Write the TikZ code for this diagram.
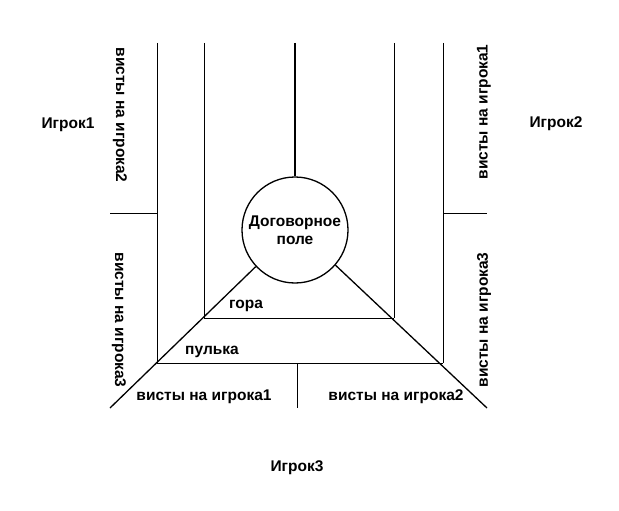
\documentclass[tikz,border=0pt]{standalone}
\usepackage{fontspec}
\setmainfont{Liberation Sans}
\begin{document}
\begin{tikzpicture}[x=1pt,y=-1pt,line width=0.6pt,
  lbl/.style={font=\bfseries\fontsize{15.5}{18}\selectfont,inner sep=1pt},
  thick1/.style={line width=1.3pt}]
\useasboundingbox (0,0) rectangle (619,511);
\node[draw,circle,minimum size=106pt,inner sep=0pt,thick1,align=center,lbl] (c) at (295,230) {Договорное\\поле};
\coordinate (t1) at (157,43); \coordinate (b1) at (157,363);
\coordinate (t2) at (204,43); \coordinate (b2) at (204,318);
\coordinate (t3) at (295,43);
\coordinate (t4) at (394,43); \coordinate (b4) at (394,318);
\coordinate (t5) at (443,43); \coordinate (b5) at (443,363);
\coordinate (hl) at (110,213); \coordinate (hr) at (487,213);
\coordinate (hlm) at (157,213); \coordinate (hrm) at (443,213);
\coordinate (dl) at (110,408); \coordinate (dr) at (487,408);
\coordinate (m1) at (297,363); \coordinate (m2) at (297,408);
\draw (t1)--(b1) (t2)--(b2) (t4)--(b4) (t5)--(b5);
\draw[thick1] (t3)--(c.north);
\draw (hl)--(hlm) (hrm)--(hr);
\draw (b2)--(b4) (b1)--(b5) (m1)--(m2);
\draw[thick1] (dl)--(c.223) (dr)--(c.-41);
\node[lbl] (p1) at (68,125) {Игрок1};
\node[lbl] (p2) at (556,124) {Игрок2};
\node[lbl] (p3) at (297,468) {Игрок3};
\node[lbl,rotate=-90] (v1) at (120,115) {висты на игрока2};
\node[lbl,rotate=-90] (v2) at (119,320) {висты на игрока3};
\node[lbl,rotate=90] (v3) at (484,112) {висты на игрока1};
\node[lbl,rotate=90] (v4) at (484,320) {висты на игрока3};
\node[lbl] (g) at (246,306) {гора};
\node[lbl] (pu) at (212,352) {пулька};
\node[lbl] (b1l) at (204,397) {висты на игрока1};
\node[lbl] (b2l) at (396,397) {висты на игрока2};
\end{tikzpicture}
\end{document}
